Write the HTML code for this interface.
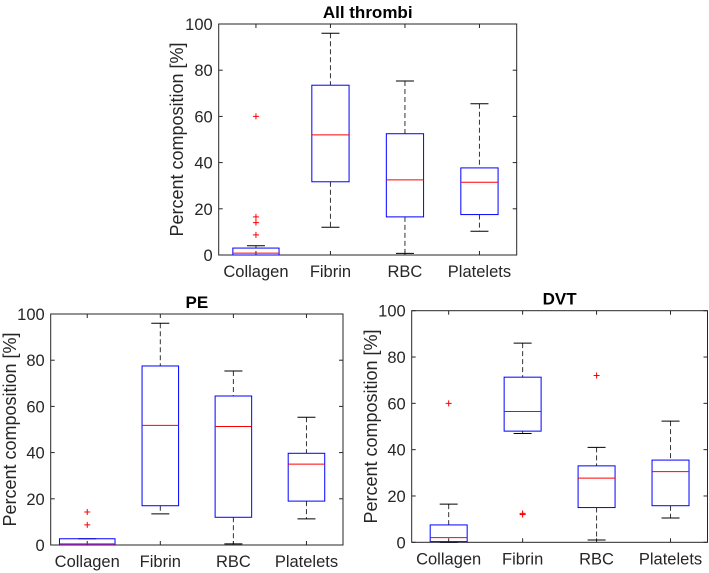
<!DOCTYPE html>
<html><head><meta charset="utf-8"><style>
html,body{margin:0;padding:0;background:#fff;width:709px;height:573px;overflow:hidden}
svg{font-family:"Liberation Sans",Arial,sans-serif}
</style></head><body>
<svg id="chart" width="709" height="573" xmlns="http://www.w3.org/2000/svg"></svg>
<script>
const categories = ["Collagen","Fibrin","RBC","Platelets"];
const yTicks = [0,20,40,60,80,100];
// [lowerWhisker, q1, median, q3, upperWhisker]
const allStats = [[0,0,0.8,3,4],[12,31.7,52,73.5,96],[0.7,16.5,32.5,52.5,75.3],[10.3,17.5,31.5,37.7,65.5]];
const allOutliers = [[60,16.5,14,8.7],[],[],[]];
const peStats = [[0,0,0.5,2.7,2.7],[13.5,17,51.8,77.5,96],[0.5,12,51.3,64.5,75.3],[11.3,19,35,39.7,55.3]];
const peOutliers = [[14.3,8.7],[],[],[]];
const dvtStats = [[0,0.3,2,7.5,16.5],[47,48,56.5,71.3,86],[1,15,27.7,33,41],[10.5,15.8,30.5,35.5,52.3]];
const dvtOutliers = [[60],[12.5,12],[72],[]];

const NS="http://www.w3.org/2000/svg";
const svg=document.getElementById('chart');
function mk(tag,attrs,parent){const e=document.createElementNS(NS,tag);for(const k in attrs)e.setAttribute(k,attrs[k]);(parent||svg).appendChild(e);return e;}

function drawPlot(cfg,stats,outliers){
  const g=mk('g',{});
  
  
  const {L,R,T,B}=cfg;
  const xs=i=>L+(i+0.5)*(R-L)/categories.length;
  const ys=v=>B-(v/100)*(B-T);
  const unit=(R-L)/categories.length;
  yTicks.forEach(t=>{
    const y=ys(t);
    mk('line',{x1:L,x2:L+4,y1:y,y2:y,stroke:'#262626','stroke-width':1},g);
    mk('line',{x1:R,x2:R-4,y1:y,y2:y,stroke:'#262626','stroke-width':1},g);
    const tx=mk('text',{x:L-6,y:y+6,'text-anchor':'end','font-size':16.5,fill:'#262626'},g);
    tx.textContent=t;
    
    
  });
  categories.forEach((c,i)=>{
    const x=xs(i);
    mk('line',{x1:x,x2:x,y1:B,y2:B-4,stroke:'#262626','stroke-width':1},g);
    mk('line',{x1:x,x2:x,y1:T,y2:T+4,stroke:'#262626','stroke-width':1},g);
    const tx=mk('text',{x:x,y:B+22,'text-anchor':'middle','font-size':16.5,fill:'#262626'},g);
    tx.textContent=c;
    
    
  });
  const fr=mk('rect',{x:L,y:T,width:R-L,height:B-T,fill:'none',stroke:'#262626','stroke-width':1},g);
  
  
  stats.forEach((s,i)=>{
    const x=xs(i);
    const bw=unit*cfg.widths[i];
    const bg=mk('g',{},g);
    
    
    const [lw,q1,md,q3,uw]=s;
    mk('line',{x1:x,x2:x,y1:ys(uw),y2:ys(q3),stroke:'#333','stroke-width':1,'stroke-dasharray':'5,3'},bg);
    mk('line',{x1:x,x2:x,y1:ys(q1),y2:ys(lw),stroke:'#333','stroke-width':1,'stroke-dasharray':'5,3'},bg);
    mk('line',{x1:x-9,x2:x+9,y1:ys(uw),y2:ys(uw),stroke:'#000','stroke-width':1},bg);
    mk('line',{x1:x-9,x2:x+9,y1:ys(lw),y2:ys(lw),stroke:'#000','stroke-width':1},bg);
    mk('rect',{x:x-bw/2,y:ys(q3),width:bw,height:Math.max(ys(q1)-ys(q3),0.5),fill:'none',stroke:'#0000ff','stroke-width':1},bg);
    mk('line',{x1:x-bw/2,x2:x+bw/2,y1:ys(md),y2:ys(md),stroke:'#ff0000','stroke-width':1},bg);
    outliers[i].forEach(o=>{
      const y=ys(o);
      const p=mk('path',{d:`M${x-3},${y}H${x+3}M${x},${y-3}V${y+3}`,stroke:'#ff0000','stroke-width':1},bg);
      
      
    });
  });
  const ti=mk('text',{x:(L+R)/2,y:T-6,'text-anchor':'middle','font-size':17,'font-weight':'bold',fill:'#000'},g);
  ti.textContent=cfg.title;
  
  
  const cy=(T+B)/2;
  const yl=mk('text',{x:cfg.ylx,y:cy,'text-anchor':'middle','font-size':18,fill:'#262626',transform:`rotate(-90 ${cfg.ylx} ${cy})`},g);
  yl.textContent='Percent composition [%]';
  
  
}
drawPlot({name:'all-thrombi-plot',title:'All thrombi',L:218.7,R:516.7,T:24,B:255,ylx:183,widths:[0.62,0.5,0.5,0.5]},allStats,allOutliers);
drawPlot({name:'pe-plot',title:'PE',L:50.7,R:343,T:314,B:545,ylx:16,widths:[0.76,0.5,0.5,0.5]},peStats,peOutliers);
drawPlot({name:'dvt-plot',title:'DVT',L:411.7,R:707.5,T:310.7,B:542.3,ylx:377,widths:[0.5,0.5,0.5,0.5]},dvtStats,dvtOutliers);
</script>
</body></html>
